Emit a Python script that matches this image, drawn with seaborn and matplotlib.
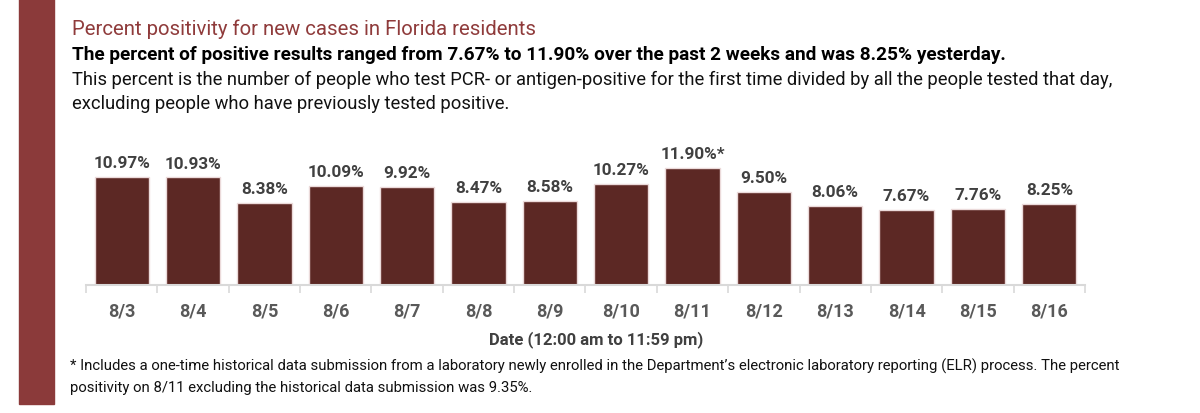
import matplotlib
matplotlib.use("Agg")
import matplotlib.pyplot as plt
import seaborn as sns
import pandas as pd
from matplotlib.patches import Rectangle

dates = ["8/3", "8/4", "8/5", "8/6", "8/7", "8/8", "8/9", "8/10", "8/11",
         "8/12", "8/13", "8/14", "8/15", "8/16"]
values = [10.97, 10.93, 8.38, 10.09, 9.92, 8.47, 8.58, 10.27, 11.90,
          9.50, 8.06, 7.67, 7.76, 8.25]
bar_labels = ["10.97%", "10.93%", "8.38%", "10.09%", "9.92%", "8.47%", "8.58%",
              "10.27%", "11.90%*", "9.50%", "8.06%", "7.67%", "7.76%", "8.25%"]

title = "Percent positivity for new cases in Florida residents"
subtitle = ("The percent of positive results ranged from 7.67% to 11.90% over the "
            "past 2 weeks and was 8.25% yesterday.")
body1 = ("This percent is the number of people who test PCR- or antigen-positive "
         "for the first time divided by all the people tested that day,")
body2 = "excluding people who have previously tested positive."
xlabel = "Date (12:00 am to 11:59 pm)"
foot1 = ("* Includes a one-time historical data submission from a laboratory newly "
         "enrolled in the Department\u2019s electronic laboratory reporting (ELR) "
         "process. The percent")
foot2 = "positivity on 8/11 excluding the historical data submission was 9.35%."

sns.set_theme(style="white")
plt.rcParams["font.family"] = ["Roboto", "DejaVu Sans"]

W, H = 1200, 414
fig = plt.figure(figsize=(W / 100, H / 100), dpi=100)

left, right, bottom_px, top_px = 86, 1085, 286, 140
ax = fig.add_axes([left / W, (H - bottom_px) / H, (right - left) / W,
                   (bottom_px - top_px) / H])

df = pd.DataFrame({"date": dates, "pct": values})
sns.barplot(data=df, x="date", y="pct", color="#5C2824", saturation=1,
            width=0.76, edgecolor="#EBDADA", linewidth=1.0, ax=ax)
ax.set_ylim(0, 14.84)
ax.set_xlim(-0.5, len(dates) - 0.5)

ax.bar_label(ax.containers[0], labels=bar_labels, padding=5,
             fontsize=12.3, fontweight="bold", color="#404040")

for s in ["top", "right", "left"]:
    ax.spines[s].set_visible(False)
ax.spines["bottom"].set_color("#D9D9D9")
ax.spines["bottom"].set_linewidth(1.5)
ax.set_yticks([])
ax.set_ylabel("")
ax.set_xlabel("")
ax.tick_params(axis="x", which="major", length=0, pad=12, labelsize=13,
               labelcolor="#595959")
for lbl in ax.get_xticklabels():
    lbl.set_fontweight("bold")
ax.set_xticks([i - 0.5 for i in range(len(dates) + 1)], minor=True)
ax.tick_params(axis="x", which="minor", length=6, width=1.2, color="#D9D9D9",
               bottom=True)

fig.patches.append(Rectangle((19 / W, (H - 405) / H), 35 / W, 405 / H,
                             transform=fig.transFigure, color="#8B3A3A",
                             zorder=0))

def fy(px):
    return (H - px) / H

fig.text(596 / W, fy(344), xlabel, fontsize=12, color="#404040",
         fontweight="bold", ha="center", va="baseline")

x0 = 72 / W
fig.text(x0, fy(35), title, fontsize=14.7, color="#8F3B3B", va="baseline")
fig.text(x0, fy(60), subtitle, fontsize=13.7, color="black",
         fontweight="bold", va="baseline")
fig.text(x0, fy(85), body1, fontsize=13.2, color="#111111", va="baseline")
fig.text(x0, fy(109), body2, fontsize=13.2, color="#111111", va="baseline")
fig.text(70 / W, fy(371), foot1, fontsize=10.7, color="#111111", va="baseline")
fig.text(70 / W, fy(392), foot2, fontsize=10.7, color="#111111", va="baseline")

fig.savefig("out.png", dpi=100)
